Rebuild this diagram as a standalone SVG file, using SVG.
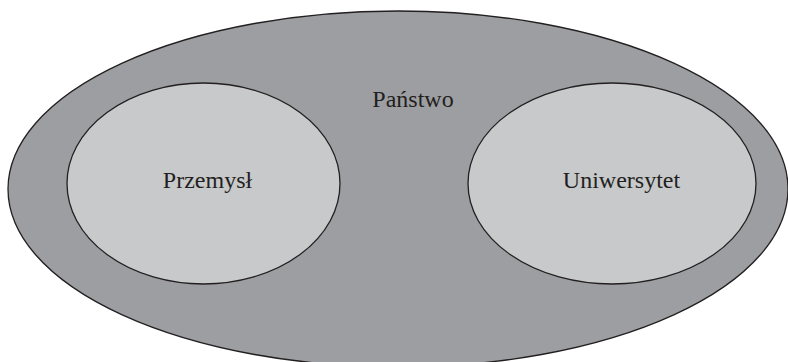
<svg xmlns="http://www.w3.org/2000/svg" width="788" height="362" viewBox="0 0 788 362">
  <style>
    .outer { fill: #9d9ea2; stroke: #231f20; stroke-width: 1.3; }
    .inner { fill: #c8c9cb; stroke: #231f20; stroke-width: 1.3; }
    .label { font-family: "Liberation Serif", "Times New Roman", serif; font-size: 24px; fill: #231f20; text-anchor: middle; }
  </style>
  <rect width="788" height="362" fill="#ffffff"/>
  <g id="panstwo">
    <ellipse class="outer" cx="398" cy="189" rx="390" ry="178"/>
    <text class="label" x="413" y="107">Państwo</text>
  </g>
  <g id="przemysl">
    <ellipse class="inner" cx="203.5" cy="183.5" rx="136.5" ry="100.5"/>
    <text class="label" x="207.5" y="188">Przemysł</text>
  </g>
  <g id="uniwersytet">
    <ellipse class="inner" cx="612" cy="183.5" rx="144" ry="100.5"/>
    <text class="label" x="621.5" y="188">Uniwersytet</text>
  </g>
  <g id="connectors"/>
</svg>
